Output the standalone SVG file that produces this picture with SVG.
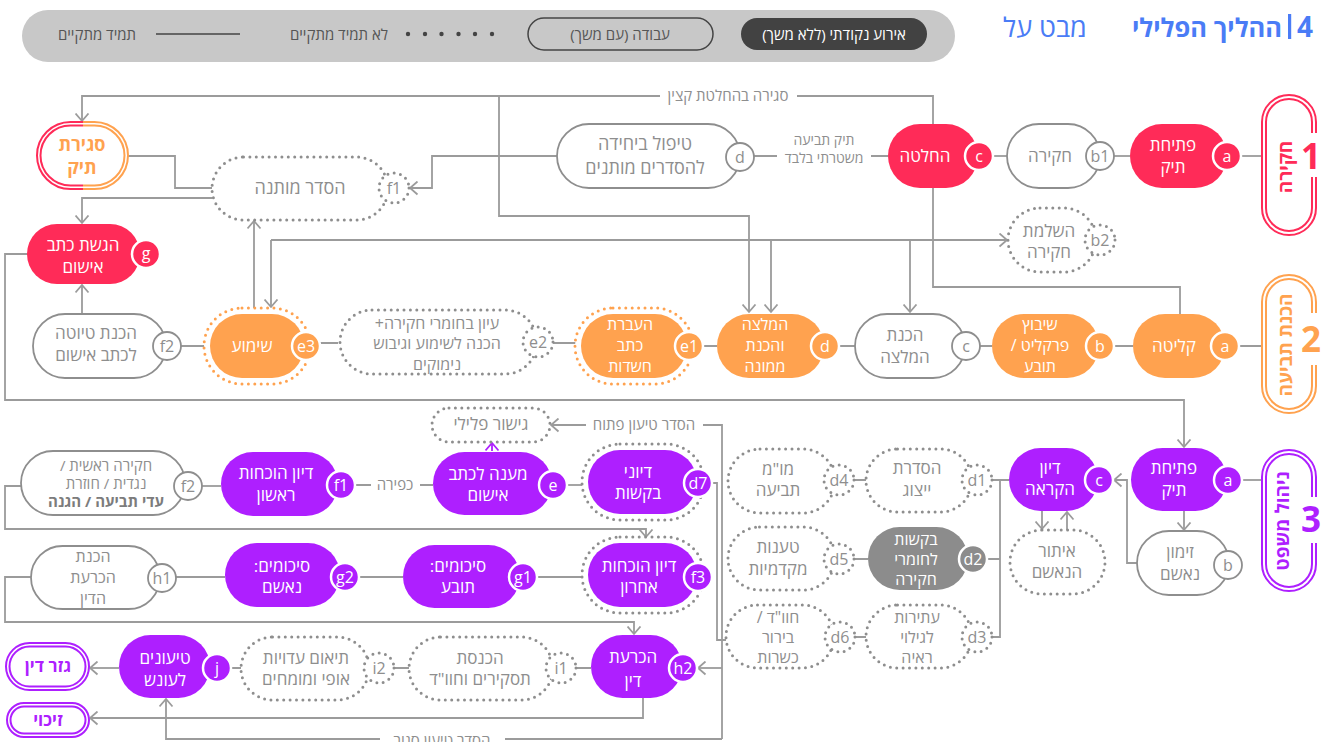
<svg xmlns="http://www.w3.org/2000/svg" width="1333" height="742" viewBox="0 0 1333 742">
<style>
text{font-family:"Open Sans","Liberation Sans","DejaVu Sans",sans-serif;text-anchor:middle;direction:rtl}
.c{fill:none;stroke:#9b9b9b;stroke-width:1.8}
.a{marker-end:url(#ah)}
.t{font-size:17px}
.t3{font-size:16px}
.t18{font-size:18px}
.s{font-size:14px;fill:#8e8e8e}
.s15{font-size:15px;fill:#8e8e8e}
.b{font-size:16px}
.w{fill:#fff}
.g{fill:#8e8e8e}
.R{fill:#ff2b58}
.O{fill:#ffa24f}
.P{fill:#ae1fff}
.K{fill:#8c8c8c}
.ol{fill:#fff;stroke:#8e8e8e;stroke-width:1.8}
.dt{fill:#fff;stroke:#8e8e8e;stroke-width:3;stroke-dasharray:0 6.4;stroke-linecap:round}
.dto{fill:#fff;stroke:#ffa24f;stroke-width:3;stroke-dasharray:0 6.4;stroke-linecap:round}
.bw{stroke:#fff;stroke-width:2.5}
.leg{font-size:15px;fill:#555}
</style>
<defs>
<marker id="ah" viewBox="0 0 10 15" refX="8.5" refY="7.5" markerWidth="10" markerHeight="15" orient="auto" markerUnits="userSpaceOnUse"><path d="M1,1 L8.5,7.5 L1,14" fill="none" stroke="#9b9b9b" stroke-width="1.8"/></marker>
<marker id="ahp" viewBox="0 0 10 15" refX="8.5" refY="7.5" markerWidth="10" markerHeight="15" orient="auto" markerUnits="userSpaceOnUse"><path d="M1,1 L8.5,7.5 L1,14" fill="none" stroke="#ae1fff" stroke-width="1.8"/></marker>
<clipPath id="cl"><rect x="0" y="100" width="83" height="110"/></clipPath>
<clipPath id="cr"><rect x="83" y="100" width="60" height="110"/></clipPath>
</defs>

<g id="legend">
<rect x="22" y="10" width="933" height="52" rx="26" fill="#c8c8c8"/>
<rect x="741" y="18" width="186" height="32" rx="16" fill="#424242"/>
<text class="leg" x="834" y="39.5" style="fill:#fff">אירוע נקודתי (ללא משך)</text>
<rect x="528" y="18" width="185" height="32" rx="16" fill="none" stroke="#444" stroke-width="1.5"/>
<text class="leg" x="620" y="39.5">עבודה (עם משך)</text>
<g fill="#444"><circle cx="408" cy="34" r="2.2"/><circle cx="425" cy="34" r="2.2"/><circle cx="441.5" cy="34" r="2.2"/><circle cx="458.5" cy="34" r="2.2"/><circle cx="475" cy="34" r="2.2"/><circle cx="492" cy="34" r="2.2"/></g>
<text class="leg" x="339" y="39.5">לא תמיד מתקיים</text>
<line x1="156" y1="34" x2="240" y2="34" stroke="#444" stroke-width="1.5"/>
<text class="leg" x="97" y="39.5">תמיד מתקיים</text>
</g>

<g id="title">
<text x="1305" y="37" style="font-size:28px;font-weight:bold;fill:#4a7cf6">4</text>
<rect x="1288" y="14" width="3.2" height="25" fill="#4a7cf6"/>
<text x="1207" y="37" style="font-size:25.5px;font-weight:bold;fill:#4a7cf6">ההליך הפלילי</text>
<text x="1045" y="37" style="font-size:27px;fill:#4a7cf6">מבט על</text>
</g>

<g id="connectors">
<path class="c" d="M1241,156 H1262"/>
<path class="c" d="M1113,156 H1130"/>
<path class="c" d="M992,156 H1007"/>
<path class="c" d="M753,156 H777 M871,156 H888"/>
<path class="c" d="M933,124 V96 H797"/>
<path class="c a" d="M660,96 H82 V121"/>
<path class="c a" d="M499,96 V216 H749 V312"/>
<path class="c a" d="M557,156 H432 V188 H410"/>
<path class="c" d="M128,156 H175 V188 H212"/>
<path class="c a" d="M212,198 H82 V223"/>
<path class="c a" d="M254,308 V221"/>
<path class="c a" d="M271,240 H1007"/>
<path class="c a" d="M271,240 V307"/>
<path class="c a" d="M771,240 V312"/>
<path class="c a" d="M910,240 V312"/>
<path class="c" d="M933,188 V287 H1180 V314"/>
<path class="c" d="M1239,346 H1262 M1114,346 H1133 M980,346 H992 M839,346 H855 M703,346 H717 M553,343 H576 M320,343 H338 M181,346 H205"/>
<path class="c a" d="M82,313 V285"/>
<path class="c a" d="M27,254 H5 V400 H1184 V447"/>
<path class="c" d="M1242,480 H1262"/>
<path class="c a" d="M1184,511 V530"/>
<path class="c a" d="M1137,563 H1127 V480 H1114"/>
<path class="c a" d="M1042,511 V529"/>
<path class="c a" d="M1067,530 V512"/>
<path class="c" d="M1009,480 H991 M1000,480 V637 H991 M1000,559 H987"/>
<path class="c" d="M866,480 H853 M868,559 H853 M866,637 H854"/>
<path class="c" d="M712,483 H717 V640 H726"/>
<path class="c" d="M722,739 V425 H703"/>
<path class="c a" d="M586,425 H551"/>
<path class="c a" d="M722,668 H698"/>
<path class="c" d="M722,739 H505"/>
<path class="c a" d="M380,739 H166 V699"/>
<path d="M492,451 V443" fill="none" stroke="#ae1fff" stroke-width="1.8" marker-end="url(#ahp)"/>
<path class="c" d="M567,485 H582"/>
<path class="c" d="M433,485 H420 M371,485 H355"/>
<path class="c" d="M202,486 H221"/>
<path class="c a" d="M21,486 H5 V529 H646 V537"/>
<path class="c" d="M537,577 H582"/>
<path class="c" d="M359,577 H403"/>
<path class="c" d="M176,577 H225"/>
<path class="c a" d="M31,577 H5 V622 H634 V634"/>
<path class="c" d="M591,668 H575 M409,668 H394 M241,668 H231"/>
<path class="c a" d="M119,668 H90"/>
<path class="c a" d="M643,698 V718 H90"/>
<text class="s15" x="728" y="101">סגירה בהחלטת קצין</text>
<text class="s" x="824" y="145">תיק תביעה</text>
<text class="s" x="824" y="163">משטרתי בלבד</text>
<text class="s15" x="644" y="430">הסדר טיעון פתוח</text>
<text class="s15" x="395" y="490">כפירה</text>
<text class="s15" x="442" y="746">הסדר טיעון סגור</text>
</g>

<g id="phase1">
<rect x="1262" y="95" width="54" height="140" rx="27" fill="#fff" stroke="#ff2b58" stroke-width="2"/>
<rect x="1266" y="99" width="46" height="132" rx="23" fill="none" stroke="#ff2b58" stroke-width="2"/>
<rect x="1300" y="133" width="26" height="44" fill="#fff"/>
<text x="1311" y="169" style="font-size:35px;font-weight:bold;fill:#ff2b58">1</text>
<text transform="translate(1285,167) rotate(-90)" dominant-baseline="central" style="font-size:19px;font-weight:bold;fill:#ff2b58">חקירה</text>
</g>
<g id="phase2">
<rect x="1262" y="275" width="54" height="138" rx="27" fill="#fff" stroke="#ffa24f" stroke-width="2"/>
<rect x="1266" y="279" width="46" height="130" rx="23" fill="none" stroke="#ffa24f" stroke-width="2"/>
<rect x="1300" y="313" width="26" height="52" fill="#fff"/>
<text x="1311" y="352" style="font-size:35px;font-weight:bold;fill:#ffa24f">2</text>
<text transform="translate(1285,345) rotate(-90)" dominant-baseline="central" style="font-size:19px;font-weight:bold;fill:#ffa24f">הכנת תביעה</text>
</g>
<g id="phase3">
<rect x="1262" y="450" width="54" height="141" rx="27" fill="#fff" stroke="#ae1fff" stroke-width="2"/>
<rect x="1266" y="454" width="46" height="133" rx="23" fill="none" stroke="#ae1fff" stroke-width="2"/>
<rect x="1300" y="497" width="26" height="46" fill="#fff"/>
<text x="1311" y="532" style="font-size:35px;font-weight:bold;fill:#ae1fff">3</text>
<text transform="translate(1282,521) rotate(-90)" dominant-baseline="central" style="font-size:19px;font-weight:bold;fill:#ae1fff">ניהול משפט</text>
</g>

<g id="n1a"><rect x="1130" y="124" width="97" height="64" rx="32" class="R"/><circle cx="1227" cy="156" r="14" class="R bw"/><text class="t w" x="1173" y="151">פתיחת</text><text class="t w" x="1173" y="173">תיק</text><text class="b w" x="1227" y="161.5">a</text></g>
<g id="n1b1"><rect x="1007" y="124" width="93" height="64" rx="32" class="ol"/><circle cx="1100" cy="156" r="14" class="ol"/><text class="t g" x="1050" y="162">חקירה</text><text class="b g" x="1100" y="161.5">b1</text></g>
<g id="n1c"><rect x="888" y="124" width="90" height="64" rx="32" class="R"/><circle cx="979" cy="156" r="14" class="R bw"/><text class="t w" x="925" y="162">החלטה</text><text class="b w" x="979" y="161.5">c</text></g>
<g id="n1d"><rect x="557" y="124" width="183" height="64" rx="32" class="ol"/><circle cx="740" cy="157" r="14" class="ol"/><text class="t18 g" x="645" y="150">טיפול ביחידה</text><text class="t18 g" x="645" y="174">להסדרים מותנים</text><text class="b g" x="740" y="162.5">d</text></g>
<g id="n1f1"><rect x="212" y="157" width="176" height="63" rx="31.5" class="dt"/><circle cx="394" cy="188" r="15" class="dt"/><text class="t18 g" x="300" y="194">הסדר מותנה</text><text class="b g" x="394" y="193.5">f1</text></g>
<g id="n-sgira">
<g clip-path="url(#cl)" fill="none" stroke="#ff2b58" stroke-width="2"><rect x="37" y="122" width="91" height="67" rx="33.5" fill="#fff"/><rect x="40.5" y="125.5" width="84" height="60" rx="30"/></g>
<g clip-path="url(#cr)" fill="none" stroke="#ffa24f" stroke-width="2"><rect x="37" y="122" width="91" height="67" rx="33.5" fill="#fff"/><rect x="40.5" y="125.5" width="84" height="60" rx="30"/></g>
<text x="82" y="151" style="font-size:18px;font-weight:bold;fill:#ffa24f">סגירת</text><text x="82" y="174" style="font-size:18px;font-weight:bold;fill:#ffa24f">תיק</text>
</g>
<g id="n1g"><rect x="27" y="224" width="113" height="60" rx="30" class="R"/><circle cx="146" cy="254" r="14" class="R bw"/><text class="t w" x="83" y="251">הגשת כתב</text><text class="t w" x="83" y="273">אישום</text><text class="b w" x="146" y="258.5">g</text></g>
<g id="n1b2"><rect x="1008" y="208" width="88" height="64" rx="32" class="dt"/><circle cx="1100" cy="240" r="15" class="dt"/><text class="t g" x="1049" y="237">השלמת</text><text class="t g" x="1049" y="258">חקירה</text><text class="b g" x="1100" y="245.5">b2</text></g>

<g id="n2a"><rect x="1133" y="314" width="92" height="64" rx="32" class="O"/><circle cx="1225" cy="346" r="14" class="O bw"/><text class="t w" x="1174" y="352">קליטה</text><text class="b w" x="1225" y="351.5">a</text></g>
<g id="n2b"><rect x="992" y="314" width="107" height="64" rx="32" class="O"/><circle cx="1100" cy="346" r="14" class="O bw"/><text class="t3 w" x="1040" y="330">שיבוץ</text><text class="t3 w" x="1040" y="351">פרקליט /</text><text class="t3 w" x="1040" y="372">תובע</text><text class="b w" x="1100" y="351.5">b</text></g>
<g id="n2c"><rect x="855" y="314" width="110" height="64" rx="32" class="ol"/><circle cx="966" cy="346" r="14" class="ol"/><text class="t g" x="905" y="341">הכנת</text><text class="t g" x="905" y="363">המלצה</text><text class="b g" x="966" y="351.5">c</text></g>
<g id="n2d"><rect x="717" y="314" width="107" height="64" rx="32" class="O"/><circle cx="825" cy="346" r="14" class="O bw"/><text class="t3 w" x="765" y="330">המלצה</text><text class="t3 w" x="765" y="351">והכנת</text><text class="t3 w" x="765" y="372">ממונה</text><text class="b w" x="825" y="351.5">d</text></g>
<g id="n2e1"><rect x="575" y="308" width="118" height="76" rx="38" class="dto"/><rect x="581" y="314" width="106" height="64" rx="32" class="O"/><circle cx="689" cy="346" r="14" class="O bw"/><text class="t3 w" x="630" y="330">העברת</text><text class="t3 w" x="630" y="351">כתב</text><text class="t3 w" x="630" y="372">חשדות</text><text class="b w" x="689" y="351.5">e1</text></g>
<g id="n2e2"><rect x="340" y="310" width="197" height="64" rx="32" class="dt"/><circle cx="538" cy="342" r="15" class="dt"/><text class="t3 g" x="437" y="329">עיון בחומרי חקירה+</text><text class="t3 g" x="437" y="349">הכנה לשימוע וגיבוש</text><text class="t3 g" x="437" y="370">נימוקים</text><text class="b g" x="538" y="347.5">e2</text></g>
<g id="n2e3"><rect x="204" y="308" width="106" height="76" rx="38" class="dto"/><rect x="210" y="314" width="94" height="64" rx="32" class="O"/><circle cx="306" cy="346" r="14" class="O bw"/><text class="t w" x="252" y="352">שימוע</text><text class="b w" x="306" y="351.5">e3</text></g>
<g id="n2f2"><rect x="33" y="314" width="133" height="64" rx="32" class="ol"/><circle cx="167" cy="346" r="14" class="ol"/><text class="t g" x="96" y="339">הכנת טיוטה</text><text class="t g" x="96" y="361">לכתב אישום</text><text class="b g" x="167" y="351.5">f2</text></g>

<g id="n3a"><rect x="1131" y="448" width="96" height="63" rx="31.5" class="P"/><circle cx="1228" cy="480" r="14" class="P bw"/><text class="t w" x="1174" y="474">פתיחת</text><text class="t w" x="1174" y="496">תיק</text><text class="b w" x="1228" y="485.5">a</text></g>
<g id="n3b"><rect x="1137" y="531" width="92" height="64" rx="32" class="ol"/><circle cx="1228" cy="565" r="14" class="ol"/><text class="t g" x="1180" y="558">זימון</text><text class="t g" x="1180" y="580">נאשם</text><text class="b g" x="1228" y="570.5">b</text></g>
<g id="n3c"><rect x="1009" y="448" width="89" height="63" rx="31.5" class="P"/><circle cx="1099" cy="480" r="14" class="P bw"/><text class="t w" x="1050" y="474">דיון</text><text class="t w" x="1050" y="495">הקראה</text><text class="b w" x="1099" y="485.5">c</text></g>
<g id="n3itur"><rect x="1010" y="530" width="95" height="64" rx="32" class="dt"/><text class="t g" x="1057" y="557">איתור</text><text class="t g" x="1057" y="578">הנאשם</text></g>
<g id="n3d1"><rect x="866" y="449" width="106" height="63" rx="31.5" class="dt"/><circle cx="977" cy="480" r="15" class="dt"/><text class="t g" x="917" y="474">הסדרת</text><text class="t g" x="917" y="496">ייצוג</text><text class="b g" x="977" y="485.5">d1</text></g>
<g id="n3d4"><rect x="728" y="449" width="107" height="64" rx="32" class="dt"/><circle cx="839" cy="480" r="15" class="dt"/><text class="t g" x="778" y="475">מו"מ</text><text class="t g" x="778" y="496">תביעה</text><text class="b g" x="839" y="485.5">d4</text></g>
<g id="n3d2"><rect x="868" y="527" width="100" height="63" rx="31.5" class="K"/><circle cx="973" cy="559" r="14" class="K bw"/><text class="t3 w" x="916" y="545">בקשות</text><text class="t3 w" x="916" y="565">לחומרי</text><text class="t3 w" x="916" y="585">חקירה</text><text class="b w" x="973" y="564.5">d2</text></g>
<g id="n3d5"><rect x="728" y="527" width="107" height="63" rx="31.5" class="dt"/><circle cx="839" cy="559" r="15" class="dt"/><text class="t g" x="778" y="553">טענות</text><text class="t g" x="778" y="575">מקדמיות</text><text class="b g" x="839" y="564.5">d5</text></g>
<g id="n3d3"><rect x="866" y="605" width="106" height="63" rx="31.5" class="dt"/><circle cx="977" cy="637" r="15" class="dt"/><text class="t3 g" x="917" y="623">עתירות</text><text class="t3 g" x="917" y="643">לגילוי</text><text class="t3 g" x="917" y="663">ראיה</text><text class="b g" x="977" y="642.5">d3</text></g>
<g id="n3d6"><rect x="726" y="605" width="108" height="63" rx="31.5" class="dt"/><circle cx="840" cy="637" r="15" class="dt"/><text class="t3 g" x="778" y="623">חוו"ד /</text><text class="t3 g" x="778" y="643">בירור</text><text class="t3 g" x="778" y="663">כשרות</text><text class="b g" x="840" y="642.5">d6</text></g>
<g id="n3d7"><rect x="582" y="444" width="122" height="76" rx="38" class="dt"/><rect x="588" y="450" width="109" height="64" rx="32" class="P"/><circle cx="698" cy="483" r="14" class="P bw"/><text class="t w" x="638" y="478">דיוני</text><text class="t w" x="638" y="499">בקשות</text><text class="b w" x="698" y="488.5">d7</text></g>
<g id="n3e"><rect x="433" y="452" width="119" height="63" rx="31.5" class="P"/><circle cx="553" cy="485" r="14" class="P bw"/><text class="t w" x="488" y="480">מענה לכתב</text><text class="t w" x="488" y="501">אישום</text><text class="b w" x="553" y="490.5">e</text></g>
<g id="n3gishur"><rect x="432" y="408" width="118" height="34" rx="17" class="dt"/><text class="t g" x="491" y="430">גישור פלילי</text></g>
<g id="n3f1"><rect x="221" y="452" width="117" height="64" rx="32" class="P"/><circle cx="341" cy="485" r="14" class="P bw"/><text class="t w" x="276" y="479">דיון הוכחות</text><text class="t w" x="276" y="501">ראשון</text><text class="b w" x="341" y="490.5">f1</text></g>
<g id="n3f2"><rect x="21" y="451" width="164" height="64" rx="32" class="ol"/><circle cx="188" cy="486" r="14" class="ol"/><text class="g" x="106" y="471" style="font-size:15px">חקירה ראשית /</text><text class="g" x="106" y="489" style="font-size:15px">נגדית / חוזרת</text><text x="106" y="507" style="font-size:15px;font-weight:bold;fill:#7c7c7c">עדי תביעה / הגנה</text><text class="b g" x="188" y="491.5">f2</text></g>

<g id="n4f3"><rect x="582" y="537" width="122" height="76" rx="38" class="dt"/><rect x="588" y="543" width="109" height="64" rx="32" class="P"/><circle cx="698" cy="577" r="14" class="P bw"/><text class="t w" x="639" y="572">דיון הוכחות</text><text class="t w" x="639" y="593">אחרון</text><text class="b w" x="698" y="582.5">f3</text></g>
<g id="n4g1"><rect x="403" y="545" width="117" height="63" rx="31.5" class="P"/><circle cx="523" cy="577" r="14" class="P bw"/><text class="t w" x="458" y="572">סיכומים:</text><text class="t w" x="458" y="593">תובע</text><text class="b w" x="523" y="582.5">g1</text></g>
<g id="n4g2"><rect x="225" y="543" width="115" height="64" rx="32" class="P"/><circle cx="345" cy="577" r="14" class="P bw"/><text class="t w" x="282" y="572">סיכומים:</text><text class="t w" x="282" y="593">נאשם</text><text class="b w" x="345" y="582.5">g2</text></g>
<g id="n4h1"><rect x="31" y="546" width="129" height="63" rx="31.5" class="ol"/><circle cx="162" cy="578" r="14" class="ol"/><text class="t3 g" x="93" y="562">הכנת</text><text class="t3 g" x="93" y="583">הכרעת</text><text class="t3 g" x="93" y="604">הדין</text><text class="b g" x="162" y="583.5">h1</text></g>

<g id="n5h2"><rect x="591" y="635" width="91" height="63" rx="31.5" class="P"/><circle cx="683" cy="668" r="14" class="P bw"/><text class="t w" x="633" y="663">הכרעת</text><text class="t w" x="633" y="687">דין</text><text class="b w" x="683" y="673.5">h2</text></g>
<g id="n5i1"><rect x="409" y="637" width="144" height="63" rx="31.5" class="dt"/><circle cx="561" cy="668" r="15" class="dt"/><text class="t g" x="480" y="664">הכנסת</text><text class="t g" x="480" y="685">תסקירים וחוו"ד</text><text class="b g" x="561" y="673.5">i1</text></g>
<g id="n5i2"><rect x="241" y="637" width="128" height="63" rx="31.5" class="dt"/><circle cx="379" cy="668" r="15" class="dt"/><text class="t g" x="306" y="664">תיאום עדויות</text><text class="t g" x="306" y="685">אופי ומומחים</text><text class="b g" x="379" y="673.5">i2</text></g>
<g id="n5j"><rect x="119" y="635" width="91" height="63" rx="31.5" class="P"/><circle cx="217" cy="668" r="14" class="P bw"/><text class="t w" x="165" y="664">טיעונים</text><text class="t w" x="165" y="686">לעונש</text><text class="b w" x="217" y="673.5">j</text></g>
<g id="n-gzar"><rect x="6" y="643" width="83" height="47" rx="23.5" fill="#fff" stroke="#ae1fff" stroke-width="2"/><rect x="9.5" y="646.5" width="76" height="40" rx="20" fill="none" stroke="#ae1fff" stroke-width="2"/><text x="48" y="672" style="font-size:17px;font-weight:bold;fill:#ae1fff">גזר דין</text></g>
<g id="n-zikui"><rect x="7" y="703" width="82" height="34" rx="17" fill="#fff" stroke="#ae1fff" stroke-width="2"/><rect x="10.5" y="706.5" width="75" height="27" rx="13.5" fill="none" stroke="#ae1fff" stroke-width="2"/><text x="48" y="726" style="font-size:17px;font-weight:bold;fill:#ae1fff">זיכוי</text></g>
</svg>
